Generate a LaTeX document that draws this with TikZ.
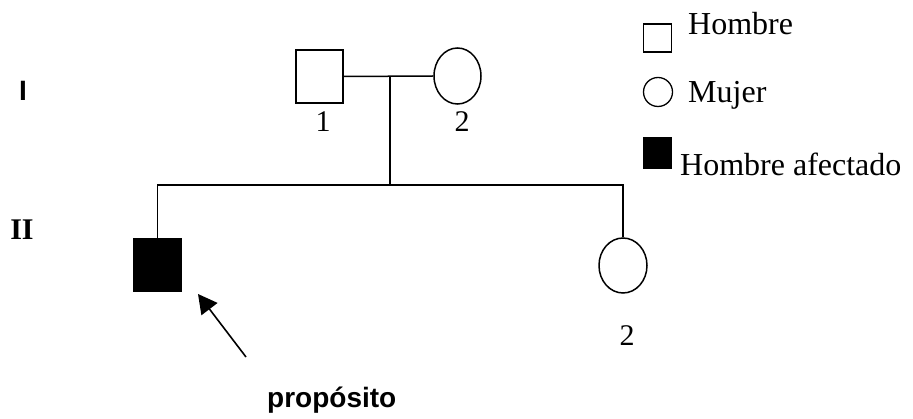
\documentclass[tikz,border=0pt]{standalone}
\usepackage{fontspec}
\setmainfont{Liberation Serif}
\newfontfamily\labelsans{Liberation Sans}
\usetikzlibrary{arrows.meta,shapes.geometric}
\begin{document}
\begin{tikzpicture}[x=1pt,y=-1pt,
  link/.style={line width=1.5pt},
  male/.style={draw,line width=1.5pt,rectangle,inner sep=0pt,minimum width=47pt,minimum height=53pt},
  female/.style={draw,line width=1.5pt,ellipse,inner sep=0pt,minimum width=47pt,minimum height=56pt},
  affected/.style={fill=black},
  keymale/.style={draw,line width=1.5pt,rectangle,inner sep=0pt,minimum width=28pt,minimum height=28pt},
  keyfemale/.style={draw,line width=1.3pt,circle,inner sep=0pt,minimum size=29pt},
  serif/.style={font=\fontsize{30}{30}\selectfont,inner sep=0pt},
  keytext/.style={font=\fontsize{32}{32}\selectfont,inner sep=0pt,anchor=base west},
  gen/.style={font=\fontsize{30}{30}\selectfont\bfseries,inner sep=0pt},
  note/.style={font=\labelsans\bfseries\fontsize{28}{28}\selectfont,inner sep=0pt}]
\useasboundingbox (0,0) rectangle (913,419);

% generation numerals
\node[gen,font=\labelsans\bfseries\fontsize{28}{28}\selectfont] (genI) at (23,91) {I};
\node[gen] (genII) at (22,230) {II};

% generation I: parents
\node[male] (I1) at (319.5,76.5) {};
\node[female] (I2) at (457.5,76) {};
\node[serif] (n11) at (323,122) {1};
\node[serif] (n12) at (462,122) {2};

% generation II: children
\node[male,affected] (II1) at (157.5,265) {};
\node[female,minimum height=55pt,minimum width=48pt] (II2) at (623,265.5) {};
\node[serif] (n22) at (627,336) {2};

% mating and sibship lines
\coordinate (mate) at (390,77);
\coordinate (sibc) at (390,185);
\coordinate (sibl) at (157.5,185);
\coordinate (sibr) at (623,185);
\draw[link] (I1.east) -- (I2.west);
\draw[link] (mate) -- (sibc);
\draw[link] (II1.north) -- (sibl) -- (sibr) -- (II2.north);

% proband arrow
\coordinate (tail) at (246,357);
\coordinate (tip) at (198,294);
\draw[line width=1.6pt,-{Triangle[length=19pt,width=20pt]}] (tail) -- (tip);
\node[note,anchor=base west] (prop) at (267,408) {propósito};

% key
\node[keymale] (kmale) at (657.5,38) {};
\node[keytext] (tmale) at (688,35) {Hombre};
\node[keyfemale] (kfemale) at (658,92) {};
\node[keytext] (tfemale) at (688,103) {Mujer};
\node[keymale,fill=black,minimum height=30pt] (kaff) at (657.5,153) {};
\node[keytext] (taff) at (680,176) {Hombre afectado};
\end{tikzpicture}
\end{document}
